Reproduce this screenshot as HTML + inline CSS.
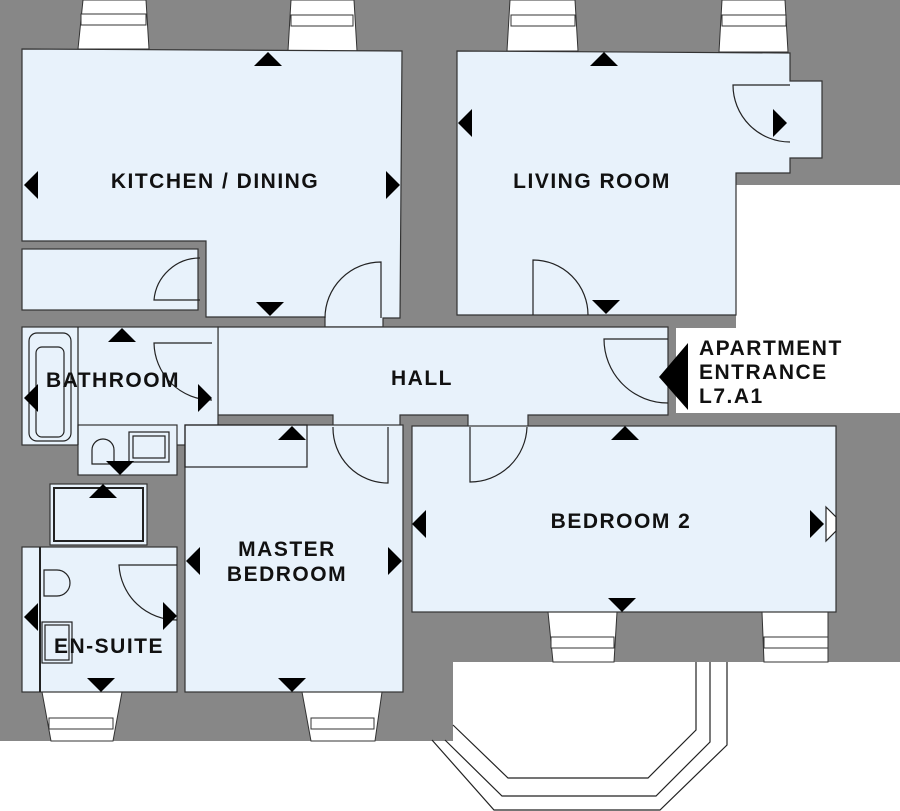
<!DOCTYPE html>
<html><head><style>
body{margin:0;background:#fff;}
svg{display:block;}
text{font-family:"Liberation Sans",sans-serif;font-weight:bold;font-size:21px;letter-spacing:1.5px;fill:#111;}
</style></head><body>
<svg width="900" height="811" viewBox="0 0 900 811" xmlns="http://www.w3.org/2000/svg">
<rect x="0" y="0" width="900" height="662" fill="#878787"/>
<rect x="0" y="662" width="453" height="79" fill="#878787"/>
<polygon points="736,185 900,185 900,413 676,413 676,328 736,328" fill="#fff"/>
<polygon points="453,662 900,662 900,811 453,811" fill="#fff"/>
<g fill="#fff" stroke="#333" stroke-width="1">
<polygon points="83,0 146,0 149,49 78,49"/>
<polygon points="291,0 354,0 357,51 288,51"/>
<polygon points="510,0 575,0 578,51 507,51"/>
<polygon points="722,0 785,0 788,52 719,52"/>
<rect x="81" y="14" width="65" height="11"/><rect x="291" y="15" width="62" height="11"/>
<rect x="511" y="15" width="64" height="11"/><rect x="722" y="15" width="64" height="11"/>
<polygon points="42,692 122,692 113,741 51,741"/>
<polygon points="302,692 382,692 375,741 311,741"/>
<polygon points="548,612 617,612 614,662 553,662"/>
<polygon points="762,612 828,612 828,662 764,662"/>
<rect x="49" y="718" width="64" height="11"/><rect x="311" y="718" width="63" height="11"/>
<rect x="551" y="637" width="63" height="11"/><rect x="764" y="637" width="64" height="11"/>
</g>
<g fill="#e8f2fb" stroke="#333" stroke-width="1.2">
<polygon points="22,49 402,51 400,318 383,318 383,327 325,327 325,317 206,317 206,241 22,241"/>
<rect x="22" y="249" width="176" height="61"/>
<polygon points="457,51 790,53 790,81 822,81 822,158 790,158 790,173 736,173 736,315 457,315"/>
<polygon points="218,327 668,327 668,415 528,415 528,427 468,427 468,415 400,415 400,427 333,427 333,415 218,415"/>
<rect x="22" y="327" width="196" height="118"/>
<rect x="78" y="425" width="99" height="50"/>
<rect x="185" y="425" width="218" height="267"/>
<rect x="412" y="426" width="424" height="186"/>
<rect x="50" y="484" width="97" height="61"/>
<rect x="22" y="547" width="155" height="145"/>
</g>
<g fill="none" stroke="#222" stroke-width="1.2">
<rect x="185" y="425" width="122" height="42"/>
<line x1="40" y1="547" x2="40" y2="692" stroke-width="2"/>
<rect x="54" y="488" width="89" height="53" stroke-width="2"/>
<rect x="29" y="333" width="42" height="108" rx="8"/>
<rect x="36" y="347" width="28" height="90" rx="6"/>
<line x1="78" y1="327" x2="78" y2="445"/>
<path d="M92,450 a11,11 0 0 1 22,0 v14 h-22z"/>
<rect x="129" y="432" width="40" height="30"/>
<rect x="133" y="436" width="32" height="22"/>
<path d="M44,570 h13 a13,13 0 0 1 0,26 h-13z"/>
<rect x="42" y="622" width="30" height="41"/>
<rect x="45" y="625" width="24" height="35"/>
<path d="M826,507 l10,10 v14 l-10,10z" fill="#fff"/>
<path d="M200,300 L154,300 A46,46 0 0 1 200,258"/>
<path d="M381,318 L381,262 A56,56 0 0 0 325,318"/>
<path d="M212,343 L154,343 A58,58 0 0 0 212,400"/>
<path d="M533,315 L533,260 A55,55 0 0 1 588,315"/>
<path d="M790,85 L733,85 A57,57 0 0 0 790,142"/>
<path d="M668,339 L604,339 A64,64 0 0 0 668,403"/>
<path d="M388,427 L388,483 A55,55 0 0 1 333,427"/>
<path d="M470,427 L470,482 A57,57 0 0 0 527,427"/>
<path d="M177,565 L119,565 A58,58 0 0 0 177,620"/>
<polyline points="453,725 508,778 648,778 696,730 696,662"/>
<polyline points="445,740 502,796 656,796 710,742 710,662"/>
<polyline points="432,740 494,810 660,810 727,745 727,662"/>
</g>
<g fill="#000">
<polygon points="254,66 282,66 268,52"/><polygon points="38,171 38,199 24,185"/><polygon points="386,171 386,199 400,185"/><polygon points="256,302 284,302 270,316"/>
<polygon points="590,66 618,66 604,52"/><polygon points="472,109 472,137 458,123"/><polygon points="773,109 773,137 787,123"/><polygon points="592,300 620,300 606,314"/>
<polygon points="108,342 136,342 122,328"/><polygon points="38,384 38,412 24,398"/><polygon points="198,384 198,412 212,398"/>
<polygon points="106,461 134,461 120,475"/><polygon points="89,498 117,498 103,484"/>
<polygon points="278,440 306,440 292,426"/><polygon points="200,547 200,575 186,561"/><polygon points="388,547 388,575 402,561"/><polygon points="278,678 306,678 292,692"/>
<polygon points="38,603 38,631 24,617"/><polygon points="163,602 163,630 177,616"/><polygon points="87,678 115,678 101,692"/>
<polygon points="611,440 639,440 625,426"/><polygon points="426,510 426,538 412,524"/><polygon points="810,510 810,538 824,524"/><polygon points="608,598 636,598 622,612"/>
<polygon points="688,343 688,410 659,377"/>
</g>
<text x="215" y="188" text-anchor="middle">KITCHEN / DINING</text>
<text x="592" y="188" text-anchor="middle">LIVING ROOM</text>
<text x="113" y="387" text-anchor="middle">BATHROOM</text>
<text x="422" y="385" text-anchor="middle">HALL</text>
<text x="699" y="355">APARTMENT</text>
<text x="699" y="379">ENTRANCE</text>
<text x="699" y="403">L7.A1</text>
<text x="621" y="528" text-anchor="middle">BEDROOM 2</text>
<text x="287" y="556" text-anchor="middle">MASTER</text>
<text x="287" y="581" text-anchor="middle">BEDROOM</text>
<text x="109" y="653" text-anchor="middle">EN-SUITE</text>
</svg>
</body></html>
